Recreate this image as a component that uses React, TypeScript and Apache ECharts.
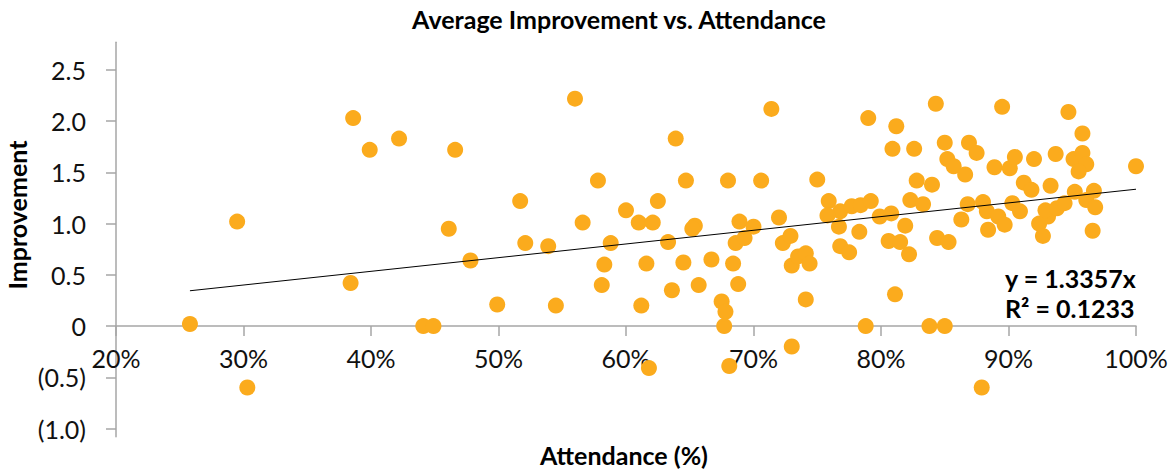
import React, { useEffect, useRef } from "react";
import * as echarts from "echarts";

const TITLE = "Average Improvement vs. Attendance";
const X_NAME = "Attendance (%)";
const Y_NAME = "Improvement";

// Attendance (fraction) for each student
const attendance = [
  0.258, 0.295, 0.303, 0.386, 0.399, 0.422, 0.466, 0.384, 0.461, 0.478,
  0.441, 0.449, 0.499, 0.545, 0.521, 0.539, 0.517, 0.56, 0.566, 0.578,
  0.581, 0.583, 0.588, 0.6, 0.61, 0.621, 0.625, 0.639, 0.612, 0.616,
  0.618, 0.633, 0.636, 0.645, 0.647, 0.654, 0.652, 0.657, 0.667, 0.675,
  0.678, 0.677, 0.681, 0.68, 0.684, 0.686, 0.693, 0.688, 0.689, 0.7,
  0.706, 0.714, 0.72, 0.723, 0.729, 0.73, 0.735, 0.741, 0.744, 0.73,
  0.741, 0.75, 0.759, 0.768, 0.777, 0.784, 0.792, 0.758, 0.767, 0.783,
  0.768, 0.775, 0.79, 0.788, 0.799, 0.808, 0.806, 0.815, 0.822, 0.819,
  0.811, 0.812, 0.809, 0.826, 0.843, 0.85, 0.869, 0.875, 0.852, 0.857,
  0.866, 0.828, 0.84, 0.823, 0.833, 0.844, 0.853, 0.838, 0.85, 0.868,
  0.88, 0.863, 0.883, 0.884, 0.879, 0.895, 0.889, 0.901, 0.905, 0.892,
  0.897, 0.903, 0.909, 0.912, 0.918, 0.92, 0.924, 0.927, 0.931, 0.929,
  0.938, 0.944, 0.933, 0.937, 0.947, 0.958, 0.951, 0.958, 0.961, 0.955,
  0.952, 0.967, 0.961, 0.968, 0.966, 1.0,
];

// Average improvement for each student (same order)
const improvement = [
  0.02, 1.02, -0.6, 2.03, 1.72, 1.83, 1.72, 0.42, 0.95, 0.64,
  0.0, 0.0, 0.21, 0.2, 0.81, 0.78, 1.22, 2.22, 1.01, 1.42,
  0.4, 0.6, 0.81, 1.13, 1.01, 1.01, 1.22, 1.83, 0.2, 0.61,
  -0.41, 0.82, 0.35, 0.62, 1.42, 0.98, 0.95, 0.4, 0.65, 0.24,
  0.14, 0.0, -0.39, 1.42, 0.61, 0.81, 0.86, 0.41, 1.02, 0.97,
  1.42, 2.12, 1.06, 0.81, 0.88, 0.59, 0.68, 0.71, 0.61, -0.2,
  0.26, 1.43, 1.22, 1.12, 1.17, 1.18, 1.22, 1.08, 0.97, 0.92,
  0.78, 0.72, 2.03, 0.0, 1.07, 1.1, 0.83, 0.82, 0.7, 0.98,
  0.31, 1.95, 1.73, 1.73, 2.17, 1.79, 1.79, 1.69, 1.63, 1.56,
  1.48, 1.42, 1.38, 1.23, 1.19, 0.86, 0.82, 0.0, 0.0, 1.19,
  1.21, 1.04, 1.12, 0.94, -0.6, 2.14, 1.55, 1.54, 1.65, 1.07,
  0.99, 1.2, 1.12, 1.4, 1.33, 1.63, 1.0, 0.88, 1.07, 1.13,
  1.15, 1.2, 1.37, 1.68, 2.09, 1.88, 1.63, 1.69, 1.58, 1.51,
  1.31, 1.32, 1.23, 1.16, 0.93, 1.56,
];

const yTickValues = [-1, -0.5, 0, 0.5, 1, 1.5, 2, 2.5];
const xTickMin = 0.2;
const xTickMax = 1.0;
const xTickStep = 0.1;
const yMin = -1.08;
const yMax = 2.77;

const TREND_SLOPE = 1.3357;
const R_SQUARED = 0.1233;

const DOT_COLOR = "#FBAB1D";
const AXIS_COLOR = "#A6A6A6";
const FONT = "Lato";

const GRID_TOP = 42.3;
const GRID_HEIGHT = 394.4;

export default function App() {
  const ref = useRef<HTMLDivElement>(null);

  useEffect(() => {
    if (!ref.current) return;
    const chart = echarts.init(ref.current, null, { renderer: "svg" });

    const points = attendance.map((a, i) => [a, improvement[i]]);
    const xMinData = Math.min(...attendance);
    const xMaxData = Math.max(...attendance);
    const trend = [
      [xMinData, TREND_SLOPE * xMinData],
      [xMaxData, TREND_SLOPE * xMaxData],
    ];

    const fmtY = (v: number) => {
      if (Math.abs(v) < 1e-9) return "0";
      if (v < 0) return "(" + Math.abs(v).toFixed(1) + ")";
      return v.toFixed(1);
    };

    // distance from grid bottom up to the zero line, so the x axis crosses at 0
    const zeroOffset = (-yMin / (yMax - yMin)) * GRID_HEIGHT;

    chart.setOption({
      animation: false,
      backgroundColor: "#ffffff",
      textStyle: { fontFamily: FONT },
      grid: {
        left: 116,
        top: GRID_TOP,
        width: 1020,
        height: GRID_HEIGHT,
        containLabel: false,
        outerBoundsMode: "none",
      },
      xAxis: {
        type: "value",
        position: "bottom",
        offset: -zeroOffset,
        min: xTickMin,
        max: xTickMax,
        interval: xTickStep,
        axisLine: { onZero: false, lineStyle: { color: AXIS_COLOR, width: 1.5 } },
        axisTick: { show: true, length: 10, inside: false, lineStyle: { color: AXIS_COLOR, width: 1.5 } },
        splitLine: { show: false },
        axisLabel: {
          margin: 19,
          color: "#111",
          fontSize: 25,
          fontFamily: FONT,
          showMinLabel: true,
          showMaxLabel: true,
          formatter: (v: number) => Math.round(v * 100) + "%",
        },
      },
      yAxis: {
        type: "value",
        min: yMin,
        max: yMax,
        axisLine: { show: true, onZero: false, lineStyle: { color: AXIS_COLOR, width: 1.5 } },
        axisTick: {
          show: true,
          length: 10,
          inside: false,
          customValues: yTickValues,
          lineStyle: { color: AXIS_COLOR, width: 1.5 },
        },
        splitLine: { show: false },
        axisLabel: {
          margin: 30,
          color: "#111",
          fontSize: 25,
          fontFamily: FONT,
          customValues: yTickValues,
          formatter: fmtY,
        },
      },
      series: [
        {
          type: "scatter",
          data: points,
          symbol: "circle",
          symbolSize: 16,
          itemStyle: { color: DOT_COLOR, opacity: 1 },
          z: 2,
        },
        {
          type: "line",
          data: trend,
          symbol: "none",
          lineStyle: { color: "#000", width: 1 },
          z: 3,
          silent: true,
        },
      ],
      graphic: [
        {
          type: "text",
          x: 619,
          y: 19,
          style: {
            text: TITLE,
            fill: "#000",
            font: `bold 25px ${FONT}`,
            textAlign: "center",
            textVerticalAlign: "middle",
          },
        },
        {
          type: "text",
          x: 624,
          y: 455,
          style: {
            text: X_NAME,
            fill: "#000",
            font: `bold 25px ${FONT}`,
            textAlign: "center",
            textVerticalAlign: "middle",
          },
        },
        {
          type: "text",
          x: 17,
          y: 215,
          rotation: Math.PI / 2,
          style: {
            text: Y_NAME,
            fill: "#000",
            font: `bold 25px ${FONT}`,
            textAlign: "center",
            textVerticalAlign: "middle",
          },
        },
        {
          type: "text",
          x: 1005,
          y: 278,
          style: {
            text: "y = " + TREND_SLOPE.toFixed(4) + "x",
            fill: "#000",
            font: `bold 25px ${FONT}`,
            textAlign: "left",
            textVerticalAlign: "middle",
          },
        },
        {
          type: "text",
          x: 1005,
          y: 308,
          style: {
            text: "R\u00B2 = " + R_SQUARED.toFixed(4),
            fill: "#000",
            font: `bold 25px ${FONT}`,
            textAlign: "left",
            textVerticalAlign: "middle",
          },
        },
      ],
    });

    return () => chart.dispose();
  }, []);

  return (
    <div
      ref={ref}
      style={{ position: "absolute", left: 0, top: 0, width: 1169, height: 470 }}
    />
  );
}
